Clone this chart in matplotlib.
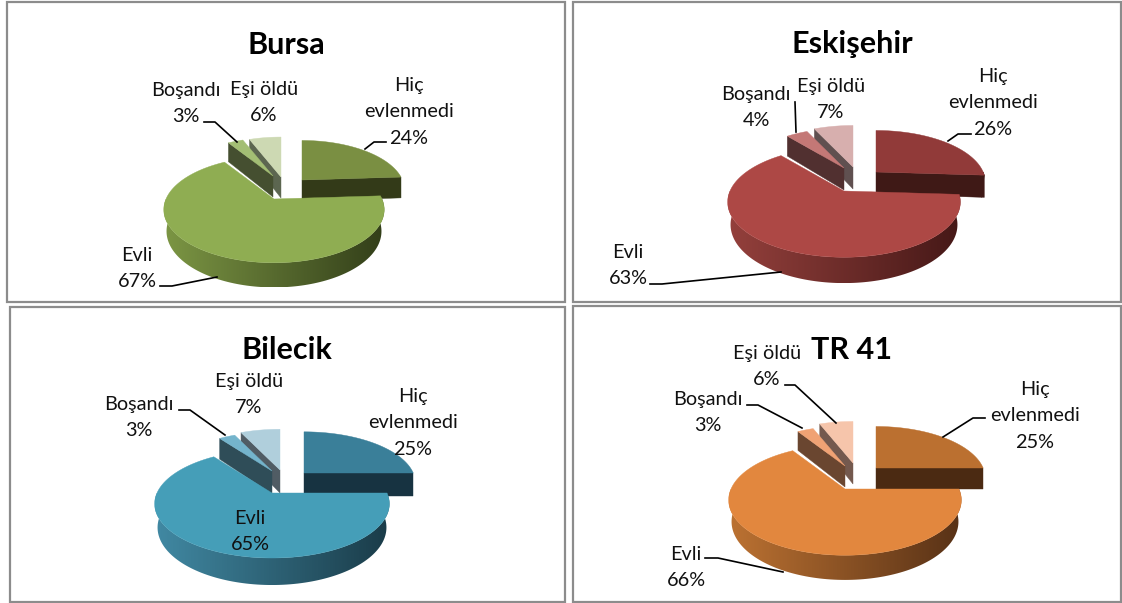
import numpy as np
from matplotlib import pyplot as plt
from matplotlib.colors import to_rgb
from matplotlib.patches import Polygon, Rectangle

plt.rcParams['font.family'] = ['Lato', 'DejaVu Sans']

regions = ['Bursa', 'Eskişehir', 'Bilecik', 'TR 41']
categories = ['Hiç\nevlenmedi', 'Evli', 'Boşandı', 'Eşi öldü']
bursa_values = [24, 67, 3, 6]
eskisehir_values = [26, 63, 4, 7]
bilecik_values = [25, 65, 3, 7]
tr41_values = [25, 66, 3, 6]
all_values = [bursa_values, eskisehir_values, bilecik_values, tr41_values]

# everything below is layout, in pixels of the 1122x603 picture
K = 0.2  # perspective
panels = [
    dict(frame=(7, 2, 565, 302), title=(286, 43), apex=(274, 199), rx=108, ry=51, depth=21,
         explode=[(28, -19), (0, 0), (-1, -23), (7, -22)], scales=[0.93, 1, 0.9, 0.94],
         top=['#7A8F42', '#8FAD52', '#A3BE74', '#CDD9B3'],
         side=['#333A18', '#333A18', '#454F30', '#5C6650'], grad=('#7C9644', '#323E19'),
         labels=[(409, 84), (137, 254), (186, 89), (264, 88)],
         leaders=[[(386, 142), (374, 142), (365, 149)],
                  [(160, 286), (172, 286), (217, 277)],
                  [(204, 122), (215, 122), (237, 142)]]),
    dict(frame=(573.5, 2, 1121, 302), title=(852, 42), apex=(844, 191), rx=114, ry=53, depth=22,
         explode=[(32, -19), (0, 0), (0, -23), (9, -24)], scales=[0.94, 1, 0.9, 0.94],
         top=['#913A39', '#AD4845', '#C47876', '#D7AFAE'],
         side=['#3F1916', '#3F1916', '#513030', '#605050'], grad=('#94403C', '#451817'),
         labels=[(993, 75), (628, 251), (756, 93), (831, 85)],
         leaders=[[(971, 134), (958, 134), (948, 141)],
                  [(650, 284), (662, 284), (781, 272)],
                  [(795, 102), (796, 132)]]),
    dict(frame=(10, 307, 565, 602), title=(287, 348), apex=(272, 493), rx=115, ry=52, depth=23,
         explode=[(32, -20), (0, 0), (0, -22), (8, -23)], scales=[0.95, 1, 0.9, 0.94],
         top=['#3A7F99', '#459EB8', '#74B4CC', '#B0CFDC'],
         side=['#173341', '#173341', '#2F4D58', '#505C64'], grad=('#4189A3', '#1A3B48'),
         labels=[(413, 395), (250, 517), (139, 403), (249, 380)],
         leaders=[[(179, 410), (190, 410), (225, 435)]]),
    dict(frame=(573.5, 306, 1121, 602), title=(852, 348), apex=(845, 489), rx=114, ry=53, depth=21,
         explode=[(31, -21), (0, 0), (0, -23), (8, -26)], scales=[0.94, 1, 0.9, 0.94],
         top=['#BB7030', '#E2873E', '#F0A274', '#F6C5AB'],
         side=['#4B2A12', '#4B2A12', '#6A4630', '#74594E'], grad=('#BC7232', '#573116'),
         labels=[(1035, 388), (686, 553), (708, 398), (767, 352)],
         leaders=[[(985, 418), (973, 418), (943, 437)],
                  [(705, 558), (718, 558), (783, 572)],
                  [(747, 405), (758, 405), (802, 428)],
                  [(785, 385), (795, 385), (836, 423)]]),
]


def rim(angles, p, apex, scale):
    # angle is clockwise from 12 o'clock; the far side of the disc is foreshortened
    a = np.radians(angles)
    u, v = np.sin(a), np.cos(a)
    s = 1 / (1 + K * v)
    return apex[0] + p['rx'] * scale * u * s, apex[1] - p['ry'] * scale * v * s, s


def drop(s, depth):
    return depth * (1 + 0.7 * (s - 1))


def draw_slice(ax, p, apex, start, end, scale, top, side, grad=None):
    # radial cut faces that look towards the viewer
    for ang, show in ((start, np.sin(np.radians(start)) < -1e-6),
                      (end, np.sin(np.radians(end)) > 1e-6)):
        if show:
            x, y, s = rim(np.array([ang]), p, apex, scale)
            d = drop(s[0], p['depth'])
            ax.add_patch(Polygon([apex, (x[0], y[0]), (x[0], y[0] + d),
                                  (apex[0], apex[1] + p['depth'])],
                                 fc=side, ec=side, lw=0.3))
    # outer wall, only the front half of the rim shows
    lo, hi = max(start, 90), min(end, 270)
    if hi > lo:
        angs = np.linspace(lo, hi, 121)
        x, y, s = rim(angs, p, apex, scale)
        d = drop(s, p['depth'])
        # base of the pie is further from the eye, a little narrower
        xb = apex[0] + (x - apex[0]) * 0.975
        wall = list(zip(x, y)) + list(zip(xb[::-1], (y + d)[::-1]))
        if grad is None:
            ax.add_patch(Polygon(wall, fc=side, ec=side, lw=0.3))
        else:
            # left to right shading, cut to the shape of the wall
            t = np.linspace(0, 1, 256)[None, :, None]
            img = (1 - t) * np.array(to_rgb(grad[0])) + t * np.array(to_rgb(grad[1]))
            im = ax.imshow(img, extent=(x.min(), x.max(), (y + d).max(), y.min()),
                           aspect='auto', zorder=1, interpolation='bilinear')
            clip = Polygon(wall, fc='none', ec='none', transform=ax.transData)
            ax.add_patch(clip)
            im.set_clip_path(clip)
    # top face
    angs = np.linspace(start, end, 180)
    x, y, _ = rim(angs, p, apex, scale)
    ax.add_patch(Polygon([apex] + list(zip(x, y)), fc=top, ec=top, lw=0.3, zorder=1))


fig = plt.figure(figsize=(11.22, 6.03), dpi=100)
ax = fig.add_axes([0, 0, 1, 1])
ax.axis('off')

for name, values, p in zip(regions, all_values, panels):
    x0, y0, x1, y1 = p['frame']
    ax.add_patch(Rectangle((x0, y0), x1 - x0, y1 - y0, fc='white', ec='#8C8C8C', lw=1.6))

    edges = np.cumsum([0] + values) * 3.6
    # far slices first so the big one overlaps them
    for i in [3, 2, 0, 1]:
        dx, dy = p['explode'][i]
        apex = (p['apex'][0] + dx, p['apex'][1] + dy)
        draw_slice(ax, p, apex, edges[i], edges[i + 1], p['scales'][i], p['top'][i], p['side'][i],
                   p['grad'] if i == 1 else None)

    for pts in p['leaders']:
        ax.plot([q[0] for q in pts], [q[1] for q in pts], color='black', lw=1.2, zorder=5)

    ax.text(p['title'][0], p['title'][1] + 2, name, ha='center', va='center',
            fontsize=22, fontweight='bold', color='black', zorder=6)
    for cat, val, (lx, ly) in zip(categories, values, p['labels']):
        for j, line in enumerate(cat.split('\n') + ['%d%%' % val]):
            ax.text(lx, ly + 1.5 + j * 26.3, line, ha='center', va='center',
                    fontsize=14.3, color='#111111', zorder=6)

ax.set_xlim(0, 1122)
ax.set_ylim(603, 0)
fig.savefig('out.png', dpi=100)
